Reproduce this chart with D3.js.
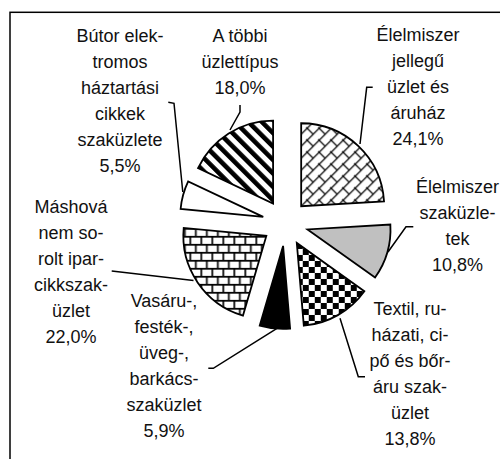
<!DOCTYPE html>
<html>
<head>
<meta charset="utf-8">
<script src="https://cdn.jsdelivr.net/npm/d3@7"></script>
<style>
  html, body { margin: 0; padding: 0; background: #fff; }
  svg { display: block; }
</style>
</head>
<body>
<svg id="chart" width="500" height="459"></svg>
<script>
// ---- data ----
const categories = [
  "Élelmiszer jellegű üzlet és áruház",
  "Élelmiszer szaküzletek",
  "Textil, ruházati, cipő és bőráru szaküzlet",
  "Vasáru-, festék-, üveg-, barkácsszaküzlet",
  "Máshová nem sorolt iparcikkszaküzlet",
  "Bútor elektromos háztartási cikkek szaküzlete",
  "A többi üzlettípus"
];
const values = [24.1, 10.8, 13.8, 5.9, 22.0, 5.5, 18.0];
const labelLines = [
  ["Élelmiszer", "jellegű", "üzlet és", "áruház"],
  ["Élelmiszer", "szaküzle-", "tek"],
  ["Textil, ru-", "házati, ci-", "pő és bőr-", "áru szak-", "üzlet"],
  ["Vasáru-,", "festék-,", "üveg-,", "barkács-", "szaküzlet"],
  ["Máshová", "nem so-", "rolt ipar-", "cikkszak-", "üzlet"],
  ["Bútor elek-", "tromos", "háztartási", "cikkek", "szaküzlete"],
  ["A többi", "üzlettípus"]
];
const fills = ["url(#pDiagBrick)", "#c0c0c0", "url(#pCheck)", "#000000", "url(#pBrick)", "#ffffff", "url(#pStripe)"];

// ---- layout ----
const cx = 285.4, cy = 223, R = 83, explode = 23;
const labelPos = [ // center x, first line center y
  [418, 34.5], [457.5, 186.5], [410, 308.5], [164, 300.5], [71, 206.5], [120, 35], [240, 35]
];
const leaders = [
  [[372.7, 87.3], [366.7, 87.3], [360, 144]],
  [[413.3, 226.7], [406, 226.7], [388, 252]],
  [[365, 376.7], [358.3, 376.7], [340, 318.3]],
  [[208.3, 368.3], [213.3, 368.3], [277, 328.3]],
  [[111.7, 271], [193.5, 280.5]],
  [[168.3, 102.3], [174, 103.3], [182.8, 192]],
  [[240, 105], [240, 112], [230, 130]]
];
const lineH = 26;

const svg = d3.select("#chart");
svg.append("rect").attr("width", 500).attr("height", 459).attr("fill", "#fff");

// ---- patterns ----
const defs = svg.append("defs");
// diagonal brick
const pd = defs.append("pattern").attr("id", "pDiagBrick").attr("patternUnits", "userSpaceOnUse")
  .attr("width", 12).attr("height", 12);
pd.append("rect").attr("width", 12).attr("height", 12).attr("fill", "#fff");
pd.append("path").attr("d", "M-1,13 L13,-1 M6,6 L12,12 M-1,1 L1,-1 M11,13 L13,11 M5,5 L7,7")
  .attr("stroke", "#111").attr("stroke-width", 1.3).attr("fill", "none");
// checkerboard
const pc = defs.append("pattern").attr("id", "pCheck").attr("patternUnits", "userSpaceOnUse")
  .attr("width", 12).attr("height", 12);
pc.append("rect").attr("width", 12).attr("height", 12).attr("fill", "#fff");
pc.append("rect").attr("width", 6).attr("height", 6).attr("fill", "#000");
pc.append("rect").attr("x", 6).attr("y", 6).attr("width", 6).attr("height", 6).attr("fill", "#000");
// horizontal brick
const pb = defs.append("pattern").attr("id", "pBrick").attr("patternUnits", "userSpaceOnUse")
  .attr("width", 11).attr("height", 16);
pb.append("rect").attr("width", 11).attr("height", 16).attr("fill", "#fff");
pb.append("path").attr("d", "M0,0.8 H11 M0,8.8 H11 M1,0 V8.8 M6.5,8 V16")
  .attr("stroke", "#000").attr("stroke-width", 1.7).attr("fill", "none");
// downward diagonal wide stripes
const ps = defs.append("pattern").attr("id", "pStripe").attr("patternUnits", "userSpaceOnUse")
  .attr("width", 9.5).attr("height", 9.5).attr("patternTransform", "rotate(-45)");
ps.append("rect").attr("width", 9.5).attr("height", 9.5).attr("fill", "#fff");
ps.append("rect").attr("width", 4.6).attr("height", 9.5).attr("fill", "#000");

// ---- border ----
svg.append("rect").attr("x", 10).attr("y", 12.3).attr("width", 520).attr("height", 480)
  .attr("fill", "none").attr("stroke", "#000").attr("stroke-width", 1.5);

// ---- pie ----
const pie = d3.pie().sort(null).value(d => d).startAngle(0).endAngle(2 * Math.PI);
const arcs = pie(values);
const arc = d3.arc().innerRadius(0).outerRadius(R);

const g = svg.append("g").attr("transform", `translate(${cx},${cy})`);
g.selectAll("path.slice").data(arcs).join("path")
  .attr("class", "slice")
  .attr("transform", d => {
    const m = (d.startAngle + d.endAngle) / 2;
    return `translate(${explode * Math.sin(m)},${-explode * Math.cos(m)})`;
  })
  .attr("d", arc)
  .attr("fill", (d, i) => fills[i])
  .attr("stroke", "#000")
  .attr("stroke-width", 1.8)
  .attr("stroke-linejoin", "miter");

// ---- leader lines ----
const line = d3.line();
svg.selectAll("path.leader").data(leaders).join("path")
  .attr("class", "leader")
  .attr("d", d => line(d))
  .attr("fill", "none")
  .attr("stroke", "#000")
  .attr("stroke-width", 1.5);

// ---- labels ----
const fmt = v => d3.format(".1f")(v).replace(".", ",") + "%";
const lab = svg.selectAll("text.lab").data(values).join("text")
  .attr("class", "lab")
  .attr("text-anchor", "middle")
  .attr("font-family", "'Liberation Sans', Arial, sans-serif")
  .attr("font-size", 18)
  .attr("fill", "#111");
lab.each(function (v, i) {
  const lines = labelLines[i].concat([fmt(v)]);
  const t = d3.select(this);
  lines.forEach((s, k) => {
    t.append("tspan").attr("x", labelPos[i][0]).attr("y", labelPos[i][1] + k * lineH + 6.5).text(s);
  });
});
</script>
</body>
</html>
